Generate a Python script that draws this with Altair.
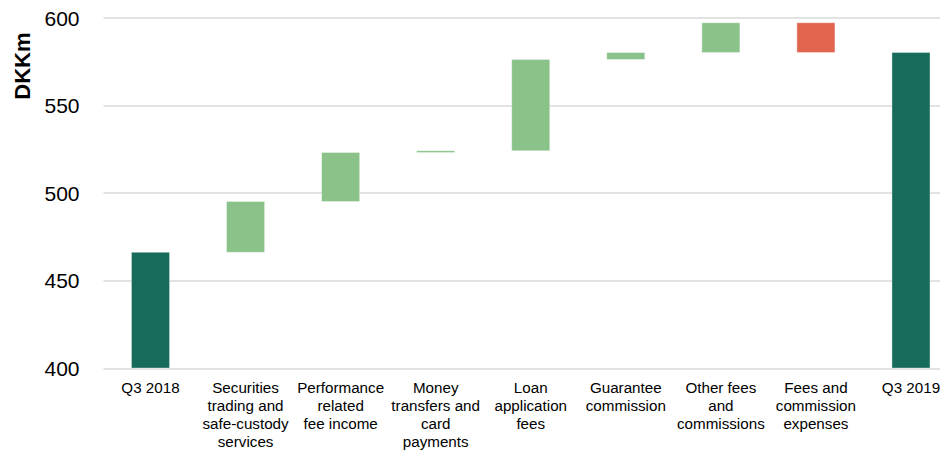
import altair as alt
import pandas as pd

categories = [
    "Q3 2018",
    "Securities|trading and|safe-custody|services",
    "Performance|related|fee income",
    "Money|transfers and|card|payments",
    "Loan|application|fees",
    "Guarantee|commission",
    "Other fees|and|commissions",
    "Fees and|commission|expenses",
    "Q3 2019",
]
values = [466, 29, 28, 1, 52, 4, 17, -17, 580]
kinds = ["total", "increase", "increase", "increase", "increase",
         "increase", "increase", "decrease", "total"]
y_min, y_max = 400, 600
y_ticks = [400, 450, 500, 550, 600]

starts, ends = [], []
running = 0
for v, k in zip(values, kinds):
    if k == "total":
        starts.append(y_min)
        ends.append(v)
        running = v
    else:
        starts.append(running)
        running += v
        ends.append(running)

df = pd.DataFrame({"category": categories, "kind": kinds,
                   "start": starts, "end": ends, "value": values})

FONT = "Liberation Sans"

chart = alt.Chart(df).mark_bar(
    stroke="white", strokeOpacity=0.35, strokeWidth=1
).encode(
    x=alt.X("category:N", sort=categories,
            scale=alt.Scale(paddingInner=0.6, paddingOuter=0.2026, align=0.74, round=False),
            axis=alt.Axis(title=None, labelAngle=0, domain=False, ticks=False, grid=False,
                          labelExpr="split(datum.label, '|')",
                          labelFont=FONT, labelFontSize=15.2, labelColor="#000000",
                          labelLineHeight=18.3, labelPadding=12, labelOverlap=False,
                          labelBaseline="top", labelLimit=300)),
    y=alt.Y("start:Q",
            scale=alt.Scale(domain=[y_min, y_max], nice=False, zero=False),
            axis=alt.Axis(title="DKKm", values=y_ticks, domain=False, ticks=False,
                          grid=True, gridColor="#d9d9d9", gridWidth=1.5,
                          labelFont=FONT, labelFontSize=21, labelColor="#000000",
                          labelPadding=24, labelOffset=1.5,
                          titleFont=FONT, titleFontSize=22, titleFontWeight="bold",
                          titleColor="#000000", titleAngle=270, titleAlign="right",
                          titleBaseline="alphabetic", titleX=-74, titleY=14.5)),
    y2="end:Q",
    color=alt.Color("kind:N",
                    scale=alt.Scale(domain=["total", "increase", "decrease"],
                                    range=["#166B5A", "#8AC28A", "#E1644E"]),
                    legend=None),
).properties(
    width=837, height=350.5,
    autosize=alt.AutoSizeParams(type="none"),
    padding={"left": 95, "top": 9.5, "right": 0, "bottom": 84},
).configure_view(stroke=None)

chart.save("out.html", embed_options={"renderer": "svg", "actions": False})
